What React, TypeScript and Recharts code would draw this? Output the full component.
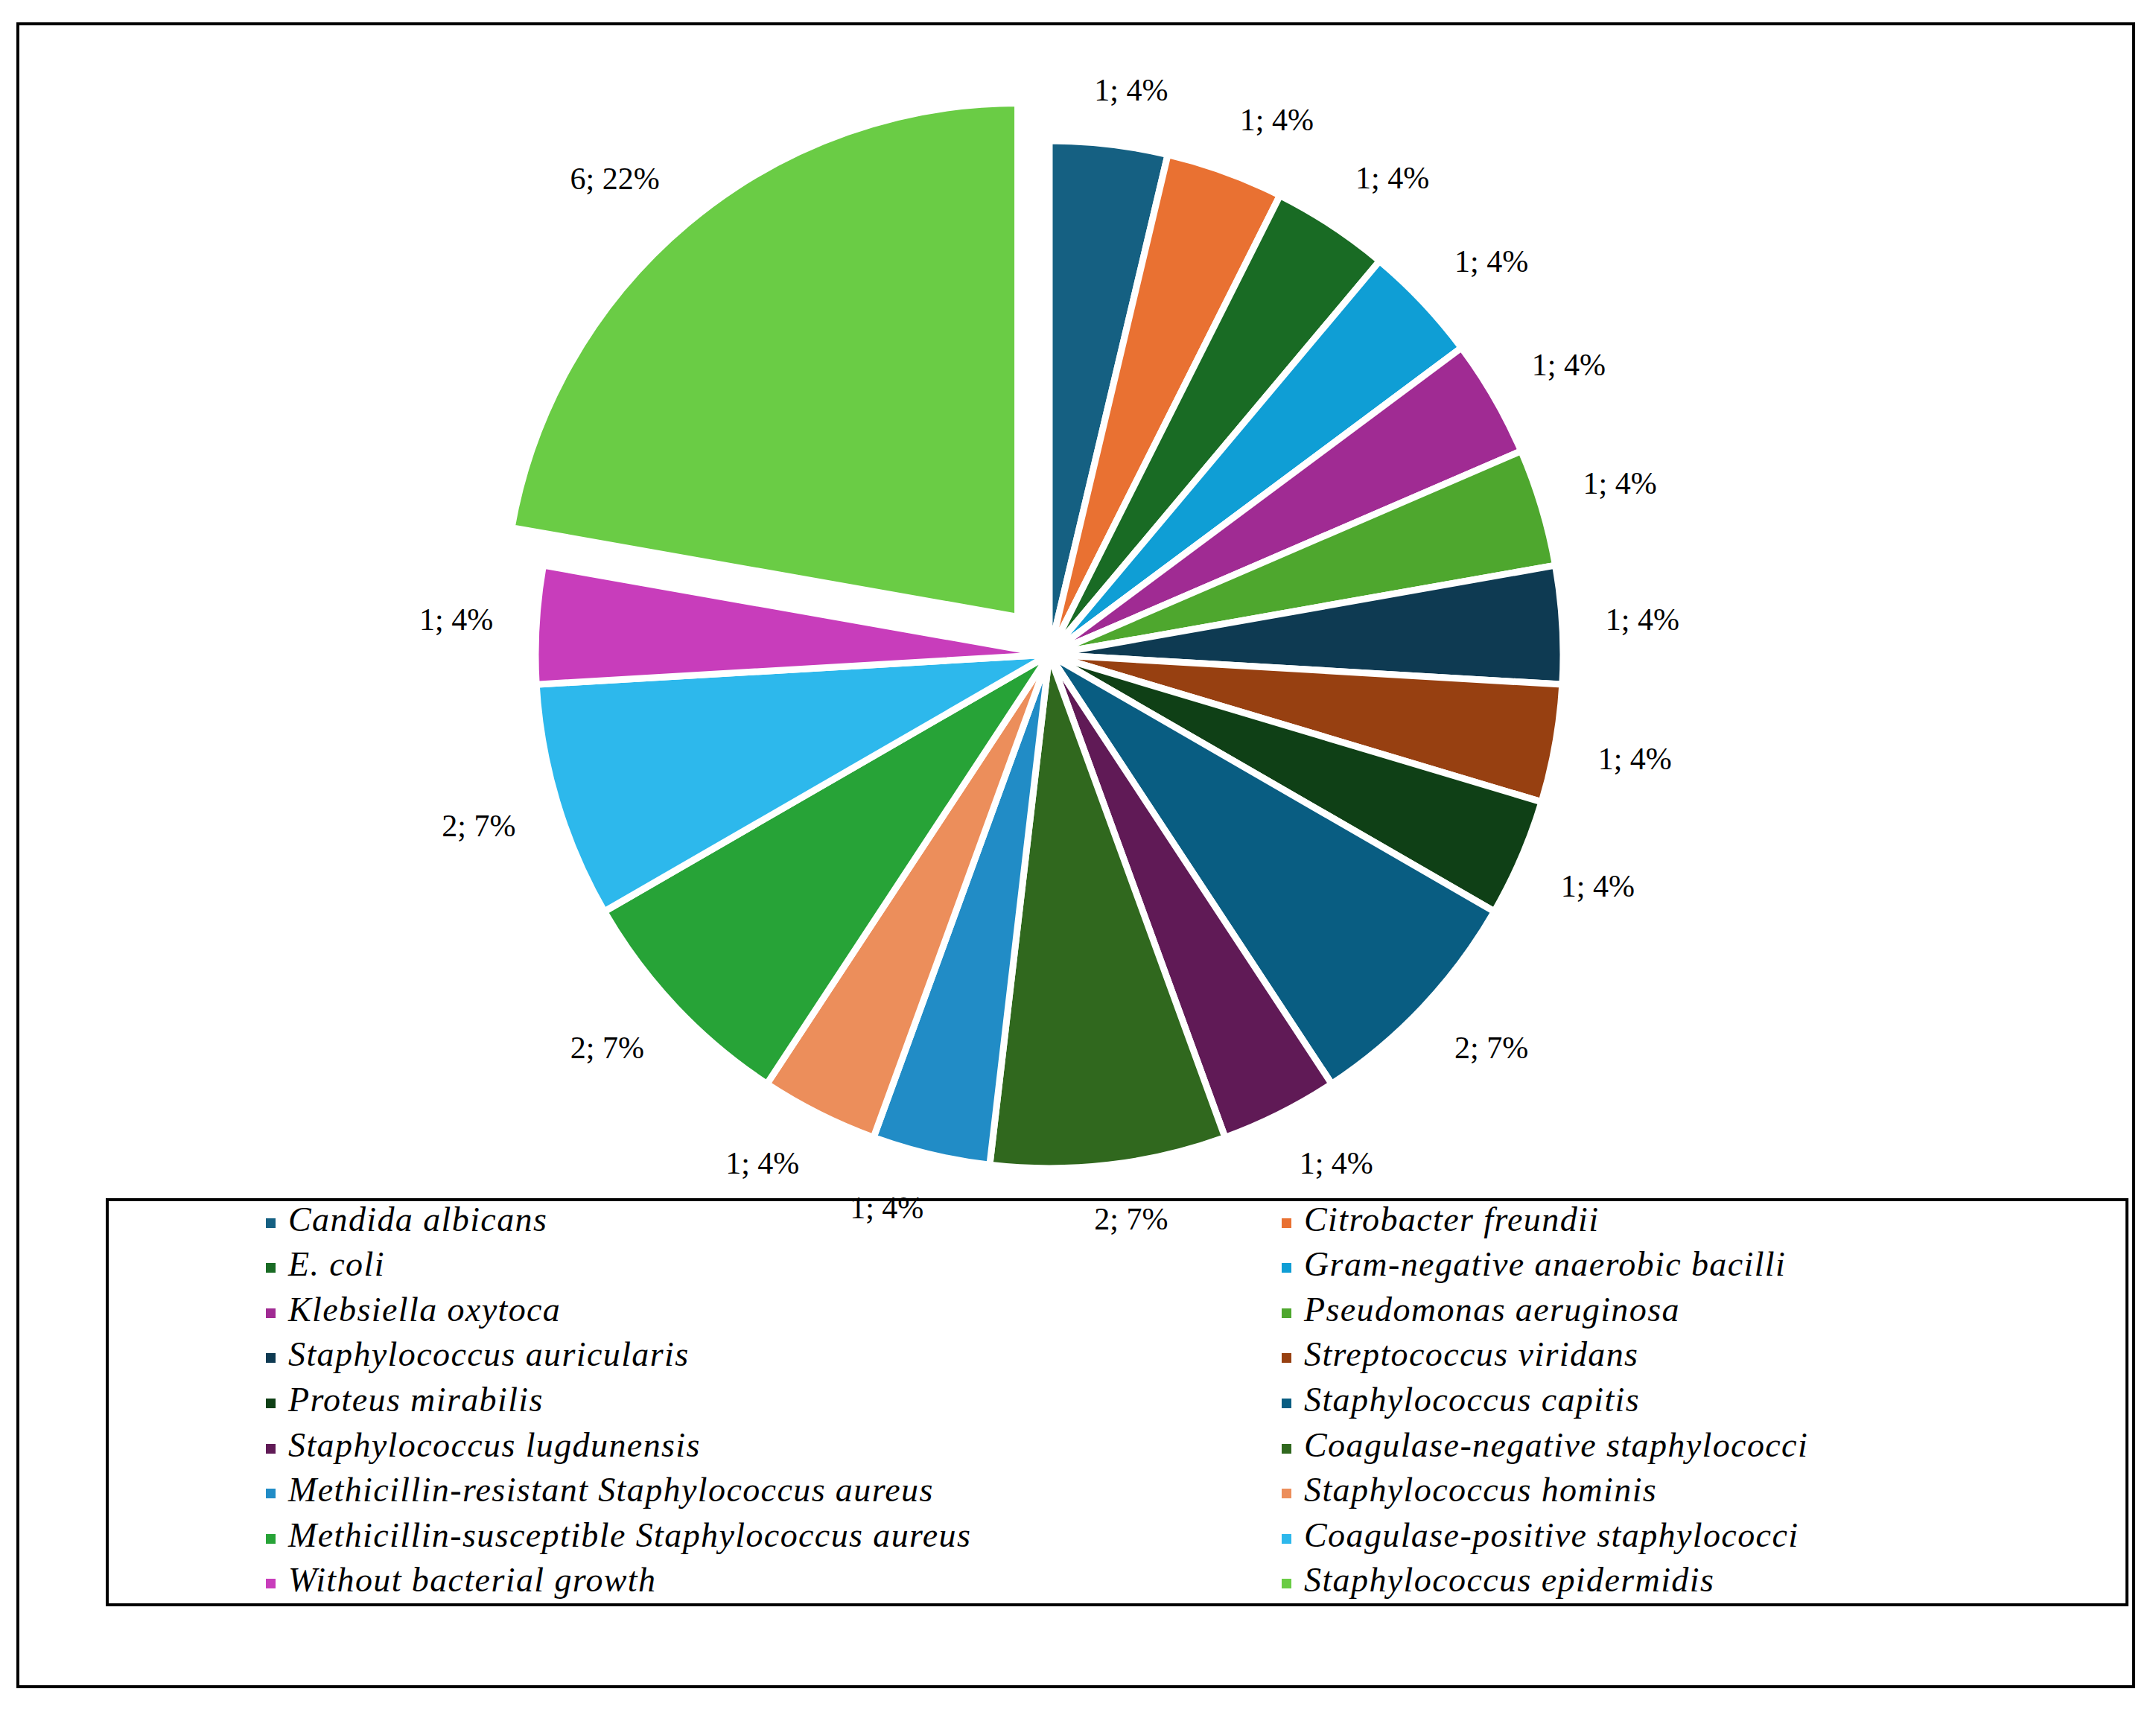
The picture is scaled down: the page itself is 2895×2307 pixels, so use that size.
import { PieChart, Pie, Cell, Legend } from 'recharts';

// Isolates by species, 27 samples in total
const SPECIES = [
  'Candida albicans',
  'Citrobacter freundii',
  'E. coli',
  'Gram-negative anaerobic bacilli',
  'Klebsiella oxytoca',
  'Pseudomonas aeruginosa',
  'Staphylococcus auricularis',
  'Streptococcus viridans',
  'Proteus mirabilis',
  'Staphylococcus capitis',
  'Staphylococcus lugdunensis',
  'Coagulase-negative staphylococci',
  'Methicillin-resistant Staphylococcus aureus',
  'Staphylococcus hominis',
  'Methicillin-susceptible Staphylococcus aureus',
  'Coagulase-positive staphylococci',
  'Without bacterial growth',
  'Staphylococcus epidermidis',
];

const COUNTS = [1, 1, 1, 1, 1, 1, 1, 1, 1, 2, 1, 2, 1, 1, 2, 2, 1, 6];

const COLORS = [
  '#156082',
  '#E97132',
  '#196B24',
  '#0F9ED5',
  '#A02B93',
  '#4EA72E',
  '#0E3A52',
  '#974011',
  '#0F4016',
  '#095D82',
  '#601A56',
  '#30681E',
  '#218CC6',
  '#EC8E5B',
  '#27A337',
  '#2DB8EC',
  '#C83DBB',
  '#6ACC45',
];

// the slice pulled out of the pie
const EXPLODED = 'Staphylococcus epidermidis';

const DATA = SPECIES.map((name, i) => ({ name, value: COUNTS[i] }));

const W = 2895;
const H = 2307;
const CX = 1409;
const CY = 879;
const RADIUS = 690;
const EXPLODE_DIST = 66;
const LABEL_GAP = 58;
const LABEL_FONT = 42;
const SERIF = '"Liberation Serif", "Times New Roman", serif';

const explodedIndex = SPECIES.indexOf(EXPLODED);
const total = COUNTS.reduce((a, b) => a + b, 0);
const before = COUNTS.slice(0, explodedIndex).reduce((a, b) => a + b, 0);
// clockwise angle from 12 o'clock to the middle of the pulled slice
const explodeMid = ((before + COUNTS[explodedIndex] / 2) / total) * 2 * Math.PI;
const EX_DX = EXPLODE_DIST * Math.sin(explodeMid);
const EX_DY = -EXPLODE_DIST * Math.cos(explodeMid);

// rough Times glyph widths, enough to size the value labels
const GLYPH: Record<string, number> = { ';': 0.278, ' ': 0.25, '%': 0.833 };
function textWidth(s: string, size: number) {
  let w = 0;
  for (const ch of s) w += GLYPH[ch] ?? 0.5;
  return w * size;
}

const clamp = (v: number) => Math.max(-1, Math.min(1, v));

function makeLabel(show: (i: number) => boolean) {
  return function SliceLabel(props: any) {
    const { cx, cy, midAngle, outerRadius, value, percent, index } = props;
    if (!show(index)) return null;
    const rad = Math.PI / 180;
    const ux = Math.cos(-midAngle * rad);
    const uy = Math.sin(-midAngle * rad);
    const text = `${value}; ${Math.round(percent * 100)}%`;
    const hw = textWidth(text, LABEL_FONT) / 2;
    const hh = 15;
    const r = outerRadius + LABEL_GAP;
    const x = cx + r * ux + hw * clamp(4 * ux);
    const y = cy + r * uy + hh * clamp(4 * uy);
    return (
      <text
        x={x}
        y={y}
        textAnchor="middle"
        dominantBaseline="central"
        fill="#000"
        fontSize={LABEL_FONT}
        fontFamily={SERIF}
      >
        {text}
      </text>
    );
  };
}

const LEG_LEFT = 142;
const LEG_TOP = 1609;
const LEG_RIGHT = 2858;
const LEG_BOTTOM = 2157;
const LEG_BORDER = 4;
const LEG_COLS = [357, 1721];
const LEG_FIRST_BASELINE = 1653;
const LEG_ROW = 60.6;
const LEG_FONT = 46;

function LegendBox() {
  return (
    <div style={{ position: 'relative', width: '100%', height: '100%' }}>
      {SPECIES.map((name, i) => {
        const row = Math.floor(i / 2);
        const col = i % 2;
        const baseline = LEG_FIRST_BASELINE + row * LEG_ROW;
        return (
          <div
            key={name}
            style={{
              position: 'absolute',
              left: LEG_COLS[col] - LEG_LEFT - LEG_BORDER,
              top: baseline - LEG_TOP - LEG_BORDER - 38.5,
              height: LEG_FONT,
            }}
          >
            <span
              style={{
                position: 'absolute',
                left: 0,
                top: 21,
                width: 13,
                height: 13,
                background: COLORS[i],
              }}
            />
            <span
              style={{
                position: 'absolute',
                left: 30,
                top: 0,
                whiteSpace: 'nowrap',
                fontFamily: SERIF,
                fontStyle: 'italic',
                fontSize: LEG_FONT,
                lineHeight: `${LEG_FONT}px`,
                letterSpacing: 1.4,
                color: '#000',
              }}
            >
              {name}
            </span>
          </div>
        );
      })}
    </div>
  );
}

export default function App() {
  return (
    <div style={{ position: 'absolute', left: 0, top: 0, width: W, height: H, background: '#fff' }}>
      <div
        style={{
          position: 'absolute',
          left: 22,
          top: 30,
          width: 2845,
          height: 2237,
          border: '4px solid #000',
          boxSizing: 'border-box',
        }}
      />
      <div style={{ position: 'absolute', left: 0, top: 0 }}>
        <PieChart width={W} height={H} margin={{ top: 0, right: 0, bottom: 0, left: 0 }}>
          <Pie
            data={DATA}
            dataKey="value"
            nameKey="name"
            cx={CX}
            cy={CY}
            outerRadius={RADIUS}
            startAngle={90}
            endAngle={-270}
            stroke="#fff"
            strokeWidth={9}
            labelLine={false}
            label={makeLabel((i) => i !== explodedIndex)}
            isAnimationActive={false}
          >
            {DATA.map((d, i) => (
              <Cell
                key={`base-${i}`}
                fill={i === explodedIndex ? 'none' : COLORS[i]}
                stroke={i === explodedIndex ? 'none' : '#fff'}
              />
            ))}
          </Pie>
          <Pie
            data={DATA}
            dataKey="value"
            nameKey="name"
            cx={CX + EX_DX}
            cy={CY + EX_DY}
            outerRadius={RADIUS}
            startAngle={90}
            endAngle={-270}
            stroke="#fff"
            strokeWidth={9}
            labelLine={false}
            label={makeLabel((i) => i === explodedIndex)}
            isAnimationActive={false}
          >
            {DATA.map((d, i) => (
              <Cell
                key={`ex-${i}`}
                fill={i === explodedIndex ? COLORS[i] : 'none'}
                stroke={i === explodedIndex ? '#fff' : 'none'}
              />
            ))}
          </Pie>
          <Legend
            content={<LegendBox />}
            wrapperStyle={{
              position: 'absolute',
              left: LEG_LEFT,
              top: LEG_TOP,
              bottom: 'auto',
              width: LEG_RIGHT - LEG_LEFT,
              height: LEG_BOTTOM - LEG_TOP,
              border: `${LEG_BORDER}px solid #000`,
              boxSizing: 'border-box',
              background: 'transparent',
            }}
          />
        </PieChart>
      </div>
    </div>
  );
}
